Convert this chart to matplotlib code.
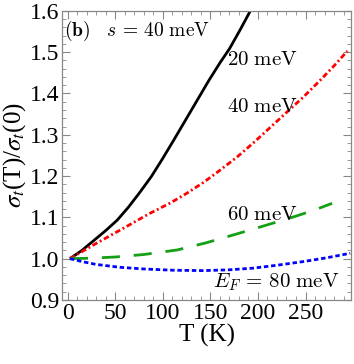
import matplotlib
matplotlib.use("Agg")
import matplotlib.pyplot as plt
from matplotlib.ticker import MultipleLocator

plt.rcParams["font.family"] = ["Liberation Serif", "DejaVu Serif"]
plt.rcParams["mathtext.fontset"] = "stix"

# Sigma_t(T)/sigma_t(0) vs T for several Fermi energies
T_20 = [2.4, 15, 27, 40, 52, 64, 76, 88, 100, 112, 124, 136, 148, 160, 170, 181, 192]
s_20 = [1.0, 1.020, 1.043, 1.068, 1.093, 1.125, 1.161, 1.199, 1.243, 1.289,
        1.336, 1.383, 1.430, 1.474, 1.508, 1.553, 1.6]

T_40 = [2.4, 27, 62, 85, 108, 125, 143, 160, 178, 195, 213, 230, 248, 265, 280, 294]
s_40 = [1.0, 1.033, 1.078, 1.108, 1.135, 1.158, 1.185, 1.214, 1.246, 1.280,
        1.318, 1.354, 1.392, 1.431, 1.467, 1.503]

T_60 = [2.4, 23.5, 50, 80, 115, 145, 178, 200, 223, 240, 258.5, 278]
s_60 = [1.0, 1.001, 1.004, 1.010, 1.021, 1.038, 1.060, 1.075, 1.091, 1.103, 1.117, 1.134]

T_80 = [2.4, 15, 30, 55, 80, 110, 143, 170, 195, 220, 248, 272, 297]
s_80 = [1.0, 0.993, 0.986, 0.979, 0.975, 0.972, 0.971, 0.973, 0.977, 0.984,
        0.993, 1.002, 1.013]

xticks = [0, 50, 100, 150, 200, 250]
yticks = [0.9, 1.0, 1.1, 1.2, 1.3, 1.4, 1.5, 1.6]

fig = plt.figure(figsize=(3.54, 3.64), dpi=100)
ax = fig.add_axes([0.175, 0.176, 0.817, 0.794])

lw = 2.0
ax.plot(T_20, s_20, color="black", lw=lw, solid_capstyle="butt")
ax.plot(T_40, s_40, color="#ff0000", lw=lw, dashes=(2.0, 1.0, 0.7, 1.0))
ax.plot(T_60, s_60, color="#14a014", lw=lw, dashes=(6.5, 5.0))
ax.plot(T_80, s_80, color="#0000ff", lw=lw, dashes=(1.6, 1.0))

ax.set_xlim(-6, 298)
ax.set_ylim(0.9, 1.6)
ax.set_xticks(xticks)
ax.set_yticks(yticks)
ax.set_yticklabels([f"{v:.1f}" for v in yticks])
ax.xaxis.set_minor_locator(MultipleLocator(10))
ax.yaxis.set_minor_locator(MultipleLocator(0.02))

grey = "#888888"
for sp in ax.spines.values():
    sp.set_color(grey)
    sp.set_linewidth(0.9)
ax.tick_params(which="both", direction="in", top=True, right=True, color=grey,
               labelsize=17, pad=2)
ax.tick_params(which="major", length=6, width=0.8)
ax.tick_params(which="minor", length=3, width=0.6)

ax.set_xlabel("T (K)", fontsize=18, labelpad=0)
ax.set_ylabel(r"$\sigma_t$(T)/$\sigma_t$(0)", fontsize=18, labelpad=1)

fs = 15
kw = dict(fontsize=fs, va="center", ha="left", math_fontfamily="cm")
ax.text(-4, 1.552, r"$\mathbf{(b)}\ \ \ s\, =\, 40\ \mathrm{meV}$", fontsize=14,
        va="center", ha="left", math_fontfamily="cm")
ax.text(168, 1.481, r"$\mathrm{20\ meV}$", **kw)
ax.text(168, 1.365, r"$\mathrm{40\ meV}$", **kw)
ax.text(168, 1.105, r"$\mathrm{60\ meV}$", **kw)
ax.text(153, 0.944, r"$E_F\, =\, 80\ \mathrm{meV}$", **kw)

fig.savefig("out.png", dpi=100)
